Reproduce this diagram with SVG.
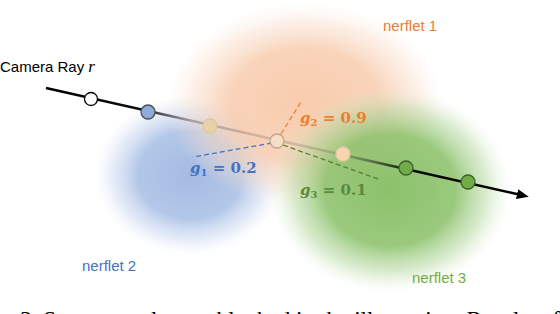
<svg xmlns="http://www.w3.org/2000/svg" width="560" height="314" viewBox="0 0 560 314">
<defs>
<radialGradient id="gO" cx="0.5" cy="0.5" r="0.5">
<stop offset="0" stop-color="#F8C9A8" stop-opacity="0.95"/>
<stop offset="0.55" stop-color="#F8CCAE" stop-opacity="0.85"/>
<stop offset="0.8" stop-color="#FAD9C4" stop-opacity="0.45"/>
<stop offset="1" stop-color="#FCE6D8" stop-opacity="0"/>
</radialGradient>
<radialGradient id="gB" cx="0.5" cy="0.5" r="0.5">
<stop offset="0" stop-color="#9FB7E1" stop-opacity="0.95"/>
<stop offset="0.55" stop-color="#A6BDE4" stop-opacity="0.85"/>
<stop offset="0.8" stop-color="#C2D2EE" stop-opacity="0.45"/>
<stop offset="1" stop-color="#DCE6F6" stop-opacity="0"/>
</radialGradient>
<radialGradient id="gG" cx="0.5" cy="0.5" r="0.5">
<stop offset="0" stop-color="#86BE63" stop-opacity="0.95"/>
<stop offset="0.55" stop-color="#8DC26C" stop-opacity="0.88"/>
<stop offset="0.8" stop-color="#B2D69C" stop-opacity="0.5"/>
<stop offset="1" stop-color="#D8EBCB" stop-opacity="0"/>
</radialGradient>
<linearGradient id="ray" gradientUnits="userSpaceOnUse" x1="46" y1="88" x2="530" y2="197">
<stop offset="0" stop-color="#000" stop-opacity="1"/>
<stop offset="0.2" stop-color="#000" stop-opacity="0.95"/>
<stop offset="0.3" stop-color="#333" stop-opacity="0.35"/>
<stop offset="0.45" stop-color="#555" stop-opacity="0.22"/>
<stop offset="0.6" stop-color="#555" stop-opacity="0.25"/>
<stop offset="0.66" stop-color="#333" stop-opacity="0.5"/>
<stop offset="0.75" stop-color="#000" stop-opacity="0.95"/>
<stop offset="1" stop-color="#000" stop-opacity="1"/>
</linearGradient>
<marker id="arr" viewBox="0 0 12 10" refX="2" refY="5" markerWidth="12" markerHeight="10" markerUnits="userSpaceOnUse" orient="auto">
<path d="M0,0 L12,5 L0,10 Z" fill="#000"/>
</marker>
<style>
.lbl{font-family:"Liberation Sans",Arial,sans-serif;font-size:15px}
.math{font-family:"DejaVu Serif","Liberation Serif",serif;font-weight:bold;font-size:15px}
.pt{stroke-width:1.3}
.dash{fill:none;stroke-width:1.3;stroke-dasharray:5 3}
</style>
</defs>

<g id="blobs">
<ellipse id="blob-blue" cx="190" cy="175" rx="95" ry="80" fill="url(#gB)"/>
<ellipse id="blob-orange" cx="305" cy="105" rx="138" ry="102" fill="url(#gO)"/>
<ellipse id="blob-green" cx="390" cy="190" rx="120" ry="102" fill="url(#gG)"/>
</g>

<g id="connectors">
<line id="ray-line" x1="46" y1="88" x2="519" y2="194.5" stroke="url(#ray)" stroke-width="2.6" marker-end="url(#arr)"/>
<line x1="272" y1="143" x2="193" y2="157" class="dash" stroke="#4472C4"/>
<line x1="281" y1="134" x2="301" y2="102" class="dash" stroke="#ED7D31"/>
<line x1="283" y1="145" x2="381" y2="180" class="dash" stroke="#548235"/>
</g>

<g id="points">
<circle id="p0" cx="91" cy="99" r="6.5" fill="#FFFFFF" stroke="#000" class="pt"/>
<circle id="p1" cx="148" cy="112" r="7" fill="#8FAADC" stroke="#4D4D4D" class="pt"/>
<circle id="p2" cx="210" cy="126" r="7" fill="#E8D3A8" stroke="#DCC7A0" class="pt"/>
<circle id="p3" cx="277" cy="141" r="7" fill="#F5DDC8" stroke="#BCA68E" class="pt"/>
<circle id="p4" cx="343" cy="154" r="7" fill="#F8D5AE" stroke="#E6C8A2" class="pt"/>
<circle id="p5" cx="406" cy="168" r="7" fill="#70AD47" stroke="#3F5F2F" class="pt"/>
<circle id="p6" cx="468" cy="182" r="7" fill="#70AD47" stroke="#3F5F2F" class="pt"/>
</g>

<g id="labels">
<text class="lbl" x="0" y="72" font-size="15.5" fill="#000">Camera Ray <tspan font-family="'Liberation Serif',serif" font-style="italic" font-size="17">r</tspan></text>
<text class="lbl" x="383" y="31" fill="#ED7D31">nerflet 1</text>
<text class="lbl" x="82" y="271" fill="#4472C4">nerflet 2</text>
<text class="lbl" x="412" y="283" fill="#70AD47">nerflet 3</text>
<text class="math" x="190" y="173" fill="#4472C4"><tspan font-style="italic">g</tspan><tspan font-size="10" dy="3">1</tspan><tspan dy="-3"> = 0.2</tspan></text>
<text class="math" x="300" y="123" fill="#ED7D31"><tspan font-style="italic">g</tspan><tspan font-size="10" dy="3">2</tspan><tspan dy="-3"> = 0.9</tspan></text>
<text class="math" x="300" y="195" fill="#5B8A3C"><tspan font-style="italic">g</tspan><tspan font-size="10" dy="3">3</tspan><tspan dy="-3"> = 0.1</tspan></text>
</g>

<text id="caption" x="20" y="326" font-family="'Liberation Serif','Times New Roman',serif" font-size="22" fill="#000" textLength="540" lengthAdjust="spacingAndGlyphs">3.  Some samples are blocked in the illustration.  Results of</text>
</svg>
